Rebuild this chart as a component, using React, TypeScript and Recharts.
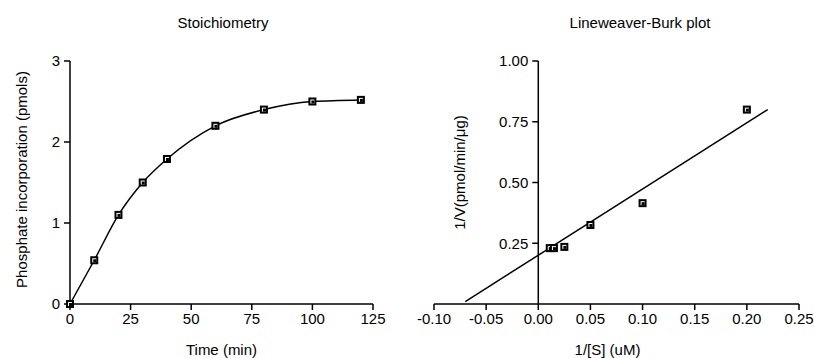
import { LineChart, Line, ComposedChart, Scatter, XAxis, YAxis, ReferenceLine } from 'recharts';

// Stoichiometry
const times = [0, 10, 20, 30, 40, 60, 80, 100, 120];
const incorporation = [0, 0.54, 1.1, 1.5, 1.79, 2.2, 2.4, 2.5, 2.52];
const timeTicks = [0, 25, 50, 75, 100, 125];
const pmolTicks = [0, 1, 2, 3];

// Lineweaver-Burk
const invS = [0.011, 0.015, 0.025, 0.05, 0.1, 0.2];
const invV = [0.23, 0.23, 0.235, 0.325, 0.415, 0.8];
const fitX = [-0.07, 0.22];
const fitY = [0.01, 0.8];
const invSTicks = [-0.1, -0.05, 0, 0.05, 0.1, 0.15, 0.2, 0.25];
const invVTicks = [0.25, 0.5, 0.75, 1.0];

const stoichData = times.map((t, i) => ({ t, v: incorporation[i] }));
const lbPoints = invS.map((x, i) => ({ x, y: invV[i] }));
const lbFit = fitX.map((x, i) => ({ x, y: fitY[i] }));

const FONT = "'Liberation Sans', Arial, sans-serif";
const tickStyle = { fill: '#000', fontSize: 15, fontFamily: FONT };
const axisStyle = { stroke: '#000', strokeWidth: 1.5 };

const Square = (props: any) => {
  const { cx, cy } = props;
  if (cx == null || cy == null) return <g />;
  return (
    <g>
      <rect x={cx - 4} y={cy - 4} width={8} height={8} fill="#000" />
      <rect x={cx - 2} y={cy - 2} width={4} height={4} fill="#fff" />
      <rect x={cx - 1} y={cy - 1} width={3} height={3} fill="#000" />
    </g>
  );
};

// right plot geometry
const R_LEFT = 26;
const R_YW = 1;
const R_RIGHT = 15;
const R_WIDTH = 407;
const R_PLOT = R_WIDTH - R_LEFT - R_YW - R_RIGHT;
const xZero = R_LEFT + R_YW + ((0 - invSTicks[0]) / (invSTicks[invSTicks.length - 1] - invSTicks[0])) * R_PLOT;

const ZeroYTick = (props: any) => {
  const { payload } = props;
  const y = payload.coordinate;
  return (
    <g>
      <line x1={xZero - 6} x2={xZero} y1={y} y2={y} stroke="#000" strokeWidth={1.5} />
      <text x={xZero - 10} y={y} dy="0.35em" textAnchor="end" {...tickStyle}>
        {Number(payload.value).toFixed(2)}
      </text>
    </g>
  );
};

const titleStyle = (center: number): any => ({
  position: 'absolute',
  top: 14,
  left: center - 150,
  width: 300,
  textAlign: 'center',
  fontFamily: FONT,
  fontSize: 15,
  color: '#000',
});

const App = () => (
  <div style={{ position: 'absolute', left: 0, top: 0, width: 814, height: 358, background: '#fff' }}>
    <div style={titleStyle(223)}>Stoichiometry</div>
    <div style={titleStyle(640)}>Lineweaver-Burk plot</div>
    <div style={{ position: 'absolute', left: 0, top: 0 }}>
      <LineChart width={407} height={358} data={stoichData} margin={{ top: 61, right: 34, left: 0, bottom: 0 }}>
        <XAxis
          type="number"
          dataKey="t"
          domain={[0, 125]}
          ticks={timeTicks}
          height={54}
          tickSize={6}
          tickMargin={3}
          axisLine={axisStyle}
          tickLine={axisStyle}
          tick={tickStyle}
          label={{ value: 'Time (min)', position: 'insideBottom', offset: 3, style: tickStyle }}
        />
        <YAxis
          type="number"
          domain={[0, 3]}
          ticks={pmolTicks}
          width={70}
          tickSize={6}
          tickMargin={4}
          axisLine={axisStyle}
          tickLine={axisStyle}
          tick={tickStyle}
          label={{ value: 'Phosphate incorporation (pmols)', angle: -90, position: 'center', dx: -13, dy: -3, style: { ...tickStyle, textAnchor: 'middle' } }}
        />
        <Line type="monotone" dataKey="v" stroke="#000" strokeWidth={1.5} dot={<Square />} isAnimationActive={false} />
      </LineChart>
    </div>
    <div style={{ position: 'absolute', left: 407, top: 0 }}>
      <ComposedChart width={R_WIDTH} height={358} margin={{ top: 61, right: R_RIGHT, left: R_LEFT, bottom: 0 }}>
        <XAxis
          type="number"
          dataKey="x"
          domain={[-0.1, 0.25]}
          ticks={invSTicks}
          allowDuplicatedCategory={false}
          height={54}
          tickSize={6}
          tickMargin={3}
          axisLine={axisStyle}
          tickLine={axisStyle}
          tick={tickStyle}
          tickFormatter={(v: number) => v.toFixed(2)}
          label={{ value: '1/[S] (uM)', position: 'insideBottom', offset: 3, dx: -9, style: tickStyle }}
        />
        <YAxis
          type="number"
          dataKey="y"
          domain={[0, 1]}
          ticks={invVTicks}
          interval={0}
          width={R_YW}
          axisLine={false}
          tickLine={false}
          tick={<ZeroYTick />}
          label={{ value: '1/V(pmol/min/μg)', angle: -90, position: 'center', dx: 26, dy: -10, style: { ...tickStyle, textAnchor: 'middle' } }}
        />
        <ReferenceLine x={0} stroke="#000" strokeWidth={1.5} />
        <Line data={lbFit} type="linear" dataKey="y" stroke="#000" strokeWidth={1.5} dot={false} isAnimationActive={false} />
        <Scatter data={lbPoints} dataKey="y" shape={<Square />} isAnimationActive={false} />
      </ComposedChart>
    </div>
  </div>
);

export default App;
